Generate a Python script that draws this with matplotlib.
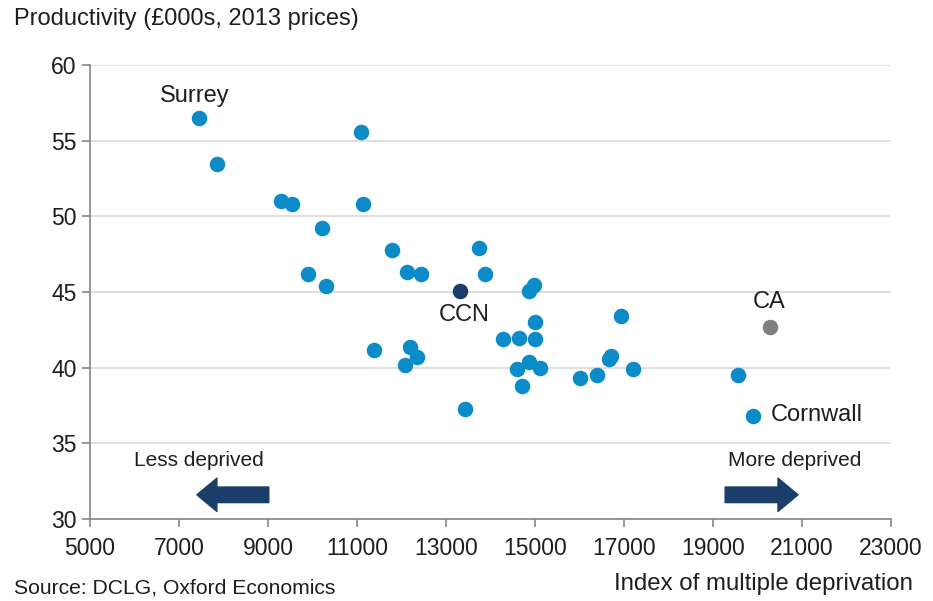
import matplotlib.pyplot as plt

plt.rcParams['font.family'] = ['Liberation Sans', 'DejaVu Sans']

# index of multiple deprivation vs productivity (£000s)
imd = [7446, 7850, 9286, 9533, 11081, 11126, 10206, 9892, 10296, 11777,
       12113, 12428, 13752, 13886, 11373, 12181, 12338, 12069, 13437, 14290,
       14649, 15008, 15008, 14874, 14986, 14604, 14874, 15120, 14716, 16018,
       16400, 16714, 16669, 16938, 17207, 19564, 19900]
prod = [56.5, 53.45, 51.0, 50.8, 55.57, 50.8, 49.2, 46.2, 45.4, 47.8,
        46.3, 46.2, 47.9, 46.2, 41.2, 41.4, 40.7, 40.2, 37.3, 41.9,
        41.95, 41.9, 43.0, 45.05, 45.45, 39.9, 40.35, 40.0, 38.8, 39.3,
        39.5, 40.8, 40.55, 43.4, 39.9, 39.5, 36.8]
ccn = (13325, 45.05)
ca = (20282, 42.7)

blue = '#0b8bc7'
navy = '#1b3d6a'
txt = '#1e1e1e'

fig = plt.figure(figsize=(9.33, 6.01), dpi=100)
ax = fig.add_axes([0.0965, 0.1364, 0.8585, 0.7554])

ax.scatter(imd, prod, s=125, color=blue, zorder=3, linewidths=0)
ax.scatter([ccn[0]], [ccn[1]], s=125, color=navy, zorder=3, linewidths=0)
ax.scatter([ca[0]], [ca[1]], s=125, color='#7f7f7f', zorder=3, linewidths=0)

ax.set_xlim(5000, 23000)
ax.set_ylim(30, 60)
ax.set_xticks(range(5000, 23001, 2000))
ax.set_yticks(range(30, 61, 5))
ax.yaxis.grid(True, color='#d9d9d9', linewidth=1.2)
ax.set_axisbelow(True)
for s in ['top', 'right']:
    ax.spines[s].set_visible(False)
for s in ['left', 'bottom']:
    ax.spines[s].set_color('#868686')
    ax.spines[s].set_linewidth(1.2)
ax.tick_params(axis='both', colors='#868686', length=6, width=1.2,
               labelsize=16.5, labelcolor=txt)
ax.tick_params(axis='x', pad=7)

# point labels
ax.text(7356, 57.95, 'Surrey', fontsize=17, ha='center', va='center', color=txt)
ax.text(13415, 43.47, 'CCN', fontsize=17, ha='center', va='center', color=txt)
ax.text(20259, 44.33, 'CA', fontsize=17, ha='center', va='center', color=txt)
ax.text(20304, 36.9, 'Cornwall', fontsize=17, ha='left', va='center', color=txt)

# direction arrows
ax.text(7446, 33.9, 'Less deprived', fontsize=15, ha='center', va='center', color=txt)
ax.text(20843, 33.9, 'More deprived', fontsize=15, ha='center', va='center', color=txt)
astyle = dict(arrowstyle='simple,head_length=0.9,head_width=1.5,tail_width=0.7',
              color=navy, shrinkA=0, shrinkB=0, mutation_scale=16)
ax.annotate('', xy=(7401, 31.6), xytext=(9017, 31.6), arrowprops=astyle)
ax.annotate('', xy=(20910, 31.6), xytext=(19272, 31.6), arrowprops=astyle)

fig.text(0.015, 0.968, 'Productivity (£000s, 2013 prices)', fontsize=17,
         ha='left', va='center', color=txt)
fig.text(0.978, 0.028, 'Index of multiple deprivation', fontsize=17.3,
         ha='right', va='center', color=txt)
fig.text(0.015, 0.005, 'Source: DCLG, Oxford Economics', fontsize=15.2,
         ha='left', va='bottom', color=txt)

fig.savefig('out.png', dpi=100)
